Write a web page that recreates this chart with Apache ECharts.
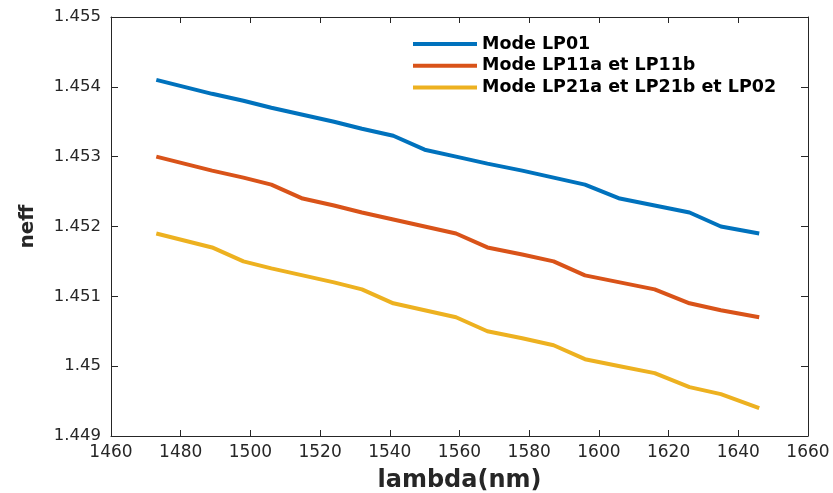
<!DOCTYPE html>
<html>
<head>
<meta charset="utf-8">
<script src="https://cdn.jsdelivr.net/npm/echarts@6/dist/echarts.min.js"></script>
<style>
  html, body { margin: 0; padding: 0; background: #fff; }
  #chart { width: 833px; height: 493px; }
</style>
</head>
<body>
<div id="chart"></div>
<script>
// wavelengths (nm)
var lambdaNm = [1473, 1481, 1489, 1498, 1506, 1515, 1524, 1532, 1541, 1550, 1559, 1568, 1578, 1587, 1596, 1606, 1616, 1626, 1635, 1646];
// effective index per mode group
var neffLP01 = [1.4541, 1.4540, 1.4539, 1.4538, 1.4537, 1.4536, 1.4535, 1.4534, 1.4533, 1.4531, 1.4530, 1.4529, 1.4528, 1.4527, 1.4526, 1.4524, 1.4523, 1.4522, 1.4520, 1.4519];
var neffLP11 = [1.4530, 1.4529, 1.4528, 1.4527, 1.4526, 1.4524, 1.4523, 1.4522, 1.4521, 1.4520, 1.4519, 1.4517, 1.4516, 1.4515, 1.4513, 1.4512, 1.4511, 1.4509, 1.4508, 1.4507];
var neffLP21 = [1.4519, 1.4518, 1.4517, 1.4515, 1.4514, 1.4513, 1.4512, 1.4511, 1.4509, 1.4508, 1.4507, 1.4505, 1.4504, 1.4503, 1.4501, 1.4500, 1.4499, 1.4497, 1.4496, 1.4494];
var seriesNames = ["Mode LP01", "Mode LP11a et LP11b", "Mode LP21a et LP21b et LP02"];
var colors = ["#0072BD", "#D95319", "#EDB120"];

function pairs(ys) {
    return lambdaNm.map(function (x, i) { return [x, ys[i]]; });
}

var axisColor = "#262626";
var chart = echarts.init(document.getElementById("chart"));

var xBase = {
    type: "value", min: 1460, max: 1660, interval: 20,
    axisLine: { show: true, onZero: false, lineStyle: { color: axisColor, width: 1 } },
    axisTick: { show: true, inside: true, length: 6, lineStyle: { color: axisColor } },
    splitLine: { show: false }
};
var yBase = {
    type: "value", min: 1.449, max: 1.455, interval: 0.001,
    axisLine: { show: true, onZero: false, lineStyle: { color: axisColor, width: 1 } },
    axisTick: { show: true, inside: true, length: 7, lineStyle: { color: axisColor } },
    splitLine: { show: false }
};

chart.setOption({
    animation: false,
    backgroundColor: "#fff",
    color: colors,
    grid: { left: 111, right: 25, top: 17, bottom: 57, containLabel: false, outerBoundsMode: "none" },
    legend: {
        orient: "vertical",
        left: 413,
        top: 35,
        padding: 0,
        itemGap: 3.7,
        itemWidth: 64,
        itemHeight: 4,
        icon: "rect",
        data: seriesNames,
        textStyle: { fontFamily: "DejaVu Sans", fontWeight: "bold", fontSize: 17.5, lineHeight: 18, color: "#000" }
    },
    xAxis: [
        Object.assign({}, xBase, {
            position: "bottom",
            name: "lambda(nm)",
            nameLocation: "middle",
            nameGap: 33,
            nameTextStyle: { fontFamily: "DejaVu Sans", fontWeight: "bold", fontSize: 24, color: axisColor },
            axisLabel: {
                margin: 8, fontFamily: "DejaVu Sans", fontSize: 17, color: axisColor,
                formatter: function (v) { return String(v); }
            }
        }),
        Object.assign({}, xBase, { position: "top", axisLabel: { show: false } })
    ],
    yAxis: [
        Object.assign({}, yBase, {
            position: "left",
            name: "neff",
            nameLocation: "middle",
            nameGap: 73,
            nameTextStyle: { fontFamily: "DejaVu Sans", fontWeight: "bold", fontSize: 20, color: axisColor },
            axisLabel: {
                margin: 10, fontFamily: "DejaVu Sans", fontSize: 16.5, color: axisColor,
                formatter: function (v) { return String(parseFloat(v.toFixed(3))); }
            }
        }),
        Object.assign({}, yBase, { position: "right", axisLabel: { show: false } })
    ],
    series: [
        { name: seriesNames[0], type: "line", data: pairs(neffLP01), showSymbol: false, lineStyle: { width: 4 } },
        { name: seriesNames[1], type: "line", data: pairs(neffLP11), showSymbol: false, lineStyle: { width: 4 } },
        { name: seriesNames[2], type: "line", data: pairs(neffLP21), showSymbol: false, lineStyle: { width: 4 } }
    ]
});
</script>
</body>
</html>
